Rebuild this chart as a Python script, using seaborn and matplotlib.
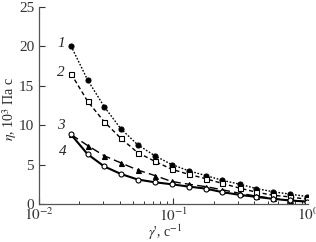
import matplotlib
matplotlib.use("Agg")
import matplotlib.pyplot as plt
import seaborn as sns
import numpy as np
import pandas as pd

shear_rate = [0.0173, 0.023, 0.0306, 0.0407, 0.0542, 0.0728, 0.097, 0.130,
              0.174, 0.231, 0.312, 0.413, 0.552, 0.734, 0.98]
eta_1 = [20.0, 15.7, 12.3, 9.5, 7.5, 6.1, 5.0, 4.2, 3.6, 3.0, 2.5, 1.95, 1.55, 1.25, 0.95]
eta_2 = [16.5, 13.0, 10.4, 8.3, 6.5, 5.4, 4.4, 3.75, 3.2, 2.6, 2.0, 1.5, 1.1, 0.9, 0.6]
eta_3 = [8.8, 7.4, 6.1, 5.2, 4.3, 3.6, 2.85, 2.5, 2.2, 1.8, 1.35, 1.0, 0.7, 0.45, 0.3]
eta_4 = [8.8, 6.3, 4.75, 3.8, 3.1, 2.75, 2.5, 2.2, 1.95, 1.5, 1.15, 0.9, 0.65, 0.45, 0.3]
curve_labels = ["1", "2", "3", "4"]
x_ticks = [0.01, 0.1, 1.0]
y_ticks = [0, 5, 10, 15, 20, 25]

sns.set_style("ticks")
plt.rcParams["font.family"] = ["Liberation Serif", "DejaVu Serif"]
plt.rcParams["mathtext.fontset"] = "stix"

fig = plt.figure(figsize=(3.16, 2.42), dpi=100)
ax = fig.add_axes([0.1234, 0.157, 0.8513, 0.816])

styles = [
    dict(y=eta_1, ls=(0, (1.2, 1.2)), marker="o", mfc="black", lw=1.0),
    dict(y=eta_2, ls=(0, (3, 2)), marker="s", mfc="white", lw=1.0),
    dict(y=eta_3, ls=(0, (6, 3)), marker="^", mfc="black", lw=1.0),
    dict(y=eta_4, ls="-", marker="o", mfc="white", lw=1.5),
]
for s in styles:
    df = pd.DataFrame({"x": shear_rate, "y": s["y"]})
    sns.lineplot(data=df, x="x", y="y", ax=ax, color="black",
                 linestyle=s["ls"], linewidth=s["lw"], marker=s["marker"],
                 markersize=3.6, markerfacecolor=s["mfc"],
                 markeredgecolor="black", markeredgewidth=0.8)

ax.set_xscale("log")
ax.set_xlim(0.01, 1.0)
ax.set_ylim(0, 25)
ax.set_xticks(x_ticks)
ax.set_xticklabels([r"$10^{-2}$", r"$10^{-1}$", r"$10^{0}$"])
ax.set_yticks(y_ticks)
ax.tick_params(direction="in", labelsize=11, colors="#333333", length=4, width=0.8)
ax.tick_params(axis="x", pad=2)
ax.tick_params(axis="x", which="minor", direction="in", length=2.5, width=0.7, colors="#333333")
for sp in ["top", "right"]:
    ax.spines[sp].set_visible(False)
for sp in ["left", "bottom"]:
    ax.spines[sp].set_color("#555555")
    ax.spines[sp].set_linewidth(0.9)

ax.set_xlabel(r"$\gamma$', с$^{-1}$", fontsize=10)
ax.set_ylabel(r"$\eta$, 10$^3$ Па с", fontsize=10)
ax.xaxis.set_label_coords(0.47, -0.095)
ax.yaxis.set_label_coords(-0.075, 0.48)

label_pos = [(0.0155, 20.3), (0.0155, 16.6), (0.0155, 9.9), (0.0160, 6.6)]
for lab, (lx, ly) in zip(curve_labels, label_pos):
    ax.text(lx, ly, lab, fontsize=11, style="italic", ha="right", va="center")

fig.savefig("out.png", dpi=100)
